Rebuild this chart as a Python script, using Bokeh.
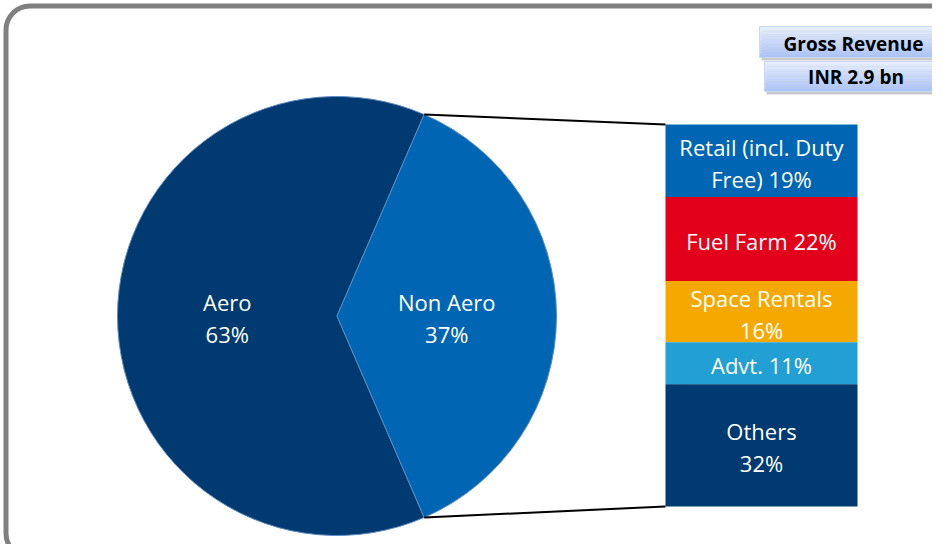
import numpy as np
from bokeh.plotting import figure
from bokeh.models import Range1d
from bokeh.core.properties import value
from bokeh.embed import file_html
from bokeh.resources import INLINE

# ---------------- data ----------------
pie_labels = ["Aero", "Non Aero"]
pie_values = [63, 37]
pie_colors = ["#003A70", "#0066B3"]

bar_labels = [["Retail (incl. Duty", "Free) 19%"], ["Fuel Farm 22%"],
              ["Space Rentals", "16%"], ["Advt. 11%"], ["Others", "32%"]]
bar_values = [19, 22, 16, 11, 32]
bar_colors = ["#0066B3", "#E2001A", "#F5A800", "#229FD3", "#003A70"]

header_lines = ["Gross Revenue", "INR 2.9 bn"]

# ---------------- layout (screen-pixel coordinates) ----------------
W, H = 948, 560
PW, PH = 932, 544
def sy(y):  # screen y -> data y
    return H - y

FONT = value("Open Sans")

p = figure(width=PW, height=PH, x_range=Range1d(0, PW), y_range=Range1d(H - PH, H),
           output_backend="svg", toolbar_location=None, min_border=0)
p.axis.visible = False
p.grid.visible = False
p.outline_line_color = None
p.background_fill_color = "white"
p.border_fill_color = "white"

# frame
p.quad(left=[5.5], right=[975], top=[sy(5.5)], bottom=[sy(557)],
       fill_color=None, line_color="#808080", line_width=5, border_radius=24)

# ---------------- pie ----------------
cx, cy, R = 336.5, sy(315.5), 219.5
total = sum(pie_values)
half = np.pi * pie_values[1] / total  # non-aero centered on angle 0
starts = [half, -half]
ends = [2 * np.pi - half, half]
p.wedge(x=cx, y=cy, radius=R, start_angle=starts, end_angle=ends,
        fill_color=pie_colors, line_color="#5b8ac4", line_width=1)

mids = [np.pi, 0.0]
for lab, val, m in zip(pie_labels, pie_values, mids):
    lx = cx + 0.5 * R * np.cos(m)
    ly = cy + 0.5 * R * np.sin(m)
    p.text(x=[lx, lx], y=[ly + 14, ly - 18], text=[lab, f"{val}%"],
           text_color="white", text_font=FONT, text_font_size="22px",
           text_align="center", text_baseline="middle")

# ---------------- stacked bar ----------------
bx0, bx1 = 665, 857
btop, bbot = 124, 506
scale = (bbot - btop) / sum(bar_values)
cum = np.concatenate([[0], np.cumsum(bar_values)])
tops = [sy(btop + c * scale) for c in cum[:-1]]
bots = [sy(btop + c * scale) for c in cum[1:]]
p.quad(left=bx0, right=bx1, top=tops, bottom=bots, fill_color=bar_colors, line_color=None)

# connector lines
ax = cx + R * np.cos(half)
ay_top = cy + R * np.sin(half)
ay_bot = cy - R * np.sin(half)
p.segment(x0=[ax, ax], y0=[ay_top, ay_bot], x1=[bx0, bx0], y1=[sy(btop), sy(bbot)],
          line_color="black", line_width=2)

bxc = (bx0 + bx1) / 2
for lines, t, b in zip(bar_labels, tops, bots):
    c = (t + b) / 2 - 2
    if len(lines) == 1:
        ys = [c]
    else:
        ys = [c + 16, c - 16]
    p.text(x=[bxc] * len(lines), y=ys, text=lines, text_color="white",
           text_font=FONT, text_font_size="22px", text_align="center",
           text_baseline="middle")

# ---------------- header boxes ----------------
boxes = [(759, 947, 26, 57), (764, 947, 61, 91)]
txt_dy = [-2, 0]
c_top = np.array([0xE6, 0xEE, 0xFE])
c_bot = np.array([0xAC, 0xC4, 0xF6])
nb = 12
for (l, r, t, b), txt, dy in zip(boxes, header_lines, txt_dy):
    p.quad(left=l + 2, right=r + 2, top=sy(t + 3), bottom=sy(b + 3),
           fill_color="#8a8a8a", fill_alpha=0.45, line_color=None)
    edges = np.linspace(t, b, nb + 1)
    cols = []
    for i in range(nb):
        f = i / (nb - 1)
        c = (c_top * (1 - f) + c_bot * f).astype(int)
        cols.append("#%02x%02x%02x" % tuple(c))
    p.quad(left=l, right=r, top=[sy(e) for e in edges[:-1]],
           bottom=[sy(e) for e in edges[1:]], fill_color=cols, line_color=None)
    p.quad(left=[l], right=[r], top=[sy(t)], bottom=[sy(b)], fill_color=None,
           line_color="#c9d8f5", line_width=1)
    p.text(x=[(l + r) / 2], y=[sy((t + b) / 2) + dy], text=[txt], text_color="black",
           text_font=FONT, text_font_size="19px", text_font_style="bold",
           text_align="center", text_baseline="middle")

open("out.html", "w").write(file_html(p, INLINE))
